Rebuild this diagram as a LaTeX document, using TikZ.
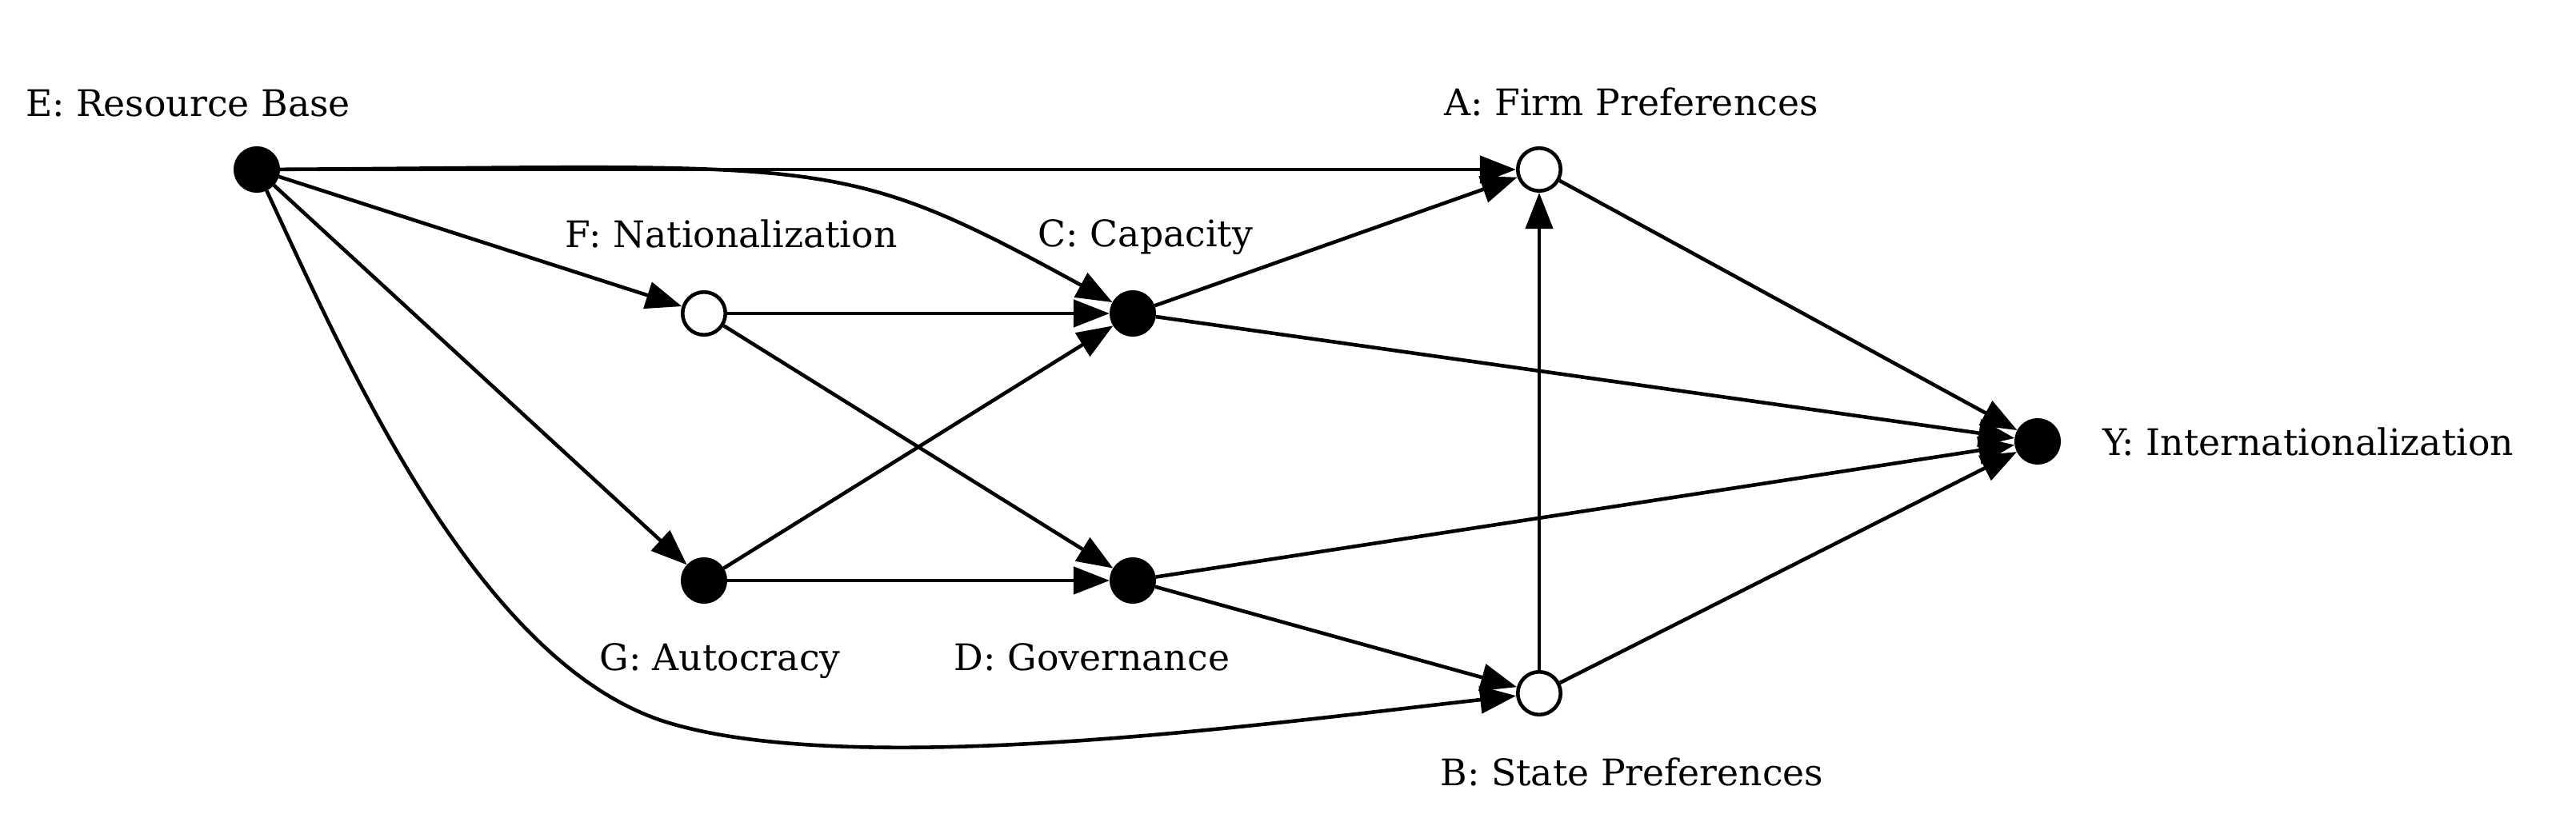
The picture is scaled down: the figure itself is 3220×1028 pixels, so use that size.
\documentclass[tikz,border=0pt]{standalone}
\usepackage{fontspec}
\setmainfont{DejaVu Serif}
\usetikzlibrary{arrows.meta}

\begin{document}
\begin{tikzpicture}[x=0.01cm, y=-0.01cm, line width=1.3pt,
    arc/.style={-{Triangle[length=0.45cm, width=0.34cm]}},
    observed/.style={circle, draw=black, fill=black, minimum size=0.535cm, inner sep=0pt},
    latent/.style={circle, draw=black, fill=white, minimum size=0.535cm, inner sep=0pt},
    tag/.style={font=\fontsize{13}{15}\selectfont, inner sep=0pt, anchor=base}]

        \useasboundingbox (0,0) rectangle (3220,1028);

        % Nodes
        \node[observed] (E) at (321,212) {};
        \node[latent]   (F) at (880,392) {};
        \node[observed] (G) at (880,726) {};
        \node[observed] (C) at (1416,392) {};
        \node[observed] (D) at (1416,726) {};
        \node[latent]   (A) at (1924,212) {};
        \node[latent]   (B) at (1924,867) {};
        \node[observed] (Y) at (2547,552) {};

        % Labels
        \node[tag] (Elab) at (235,146) {E: Resource Base};
        \node[tag] (Flab) at (914,310) {F: Nationalization};
        \node[tag] (Clab) at (1432,309) {C: Capacity};
        \node[tag] (Alab) at (2039,145) {A: Firm Preferences};
        \node[tag, anchor=base west] (Ylab) at (2626,570) {Y: Internationalization};
        \node[tag] (Glab) at (900,839) {G: Autocracy};
        \node[tag] (Dlab) at (1365,839) {D: Governance};
        \node[tag] (Blab) at (2040,983) {B: State Preferences};

        % Edges
        \coordinate (bend) at (836,904);

        \draw[arc] (E) -- (A);
        \draw[arc] (E) .. controls (1040,208) and (1045,189) .. (C);
        \draw[arc] (E) -- (F);
        \draw[arc] (E) -- (G);
        \draw[arc] (E) .. controls (432,450) and (597,832) .. (bend)
                       .. controls (1075,976) and (1598,903) .. (B);

        \draw[arc] (F) -- (C);
        \draw[arc] (F) -- (D);
        \draw[arc] (G) -- (C);
        \draw[arc] (G) -- (D);

        \draw[arc] (C) -- (A);
        \draw[arc] (C) -- (Y);
        \draw[arc] (D) -- (Y);
        \draw[arc] (D) -- (B);

        \draw[arc] (B) -- (A);
        \draw[arc] (A) -- (Y);
        \draw[arc] (B) -- (Y);
\end{tikzpicture}
\end{document}
